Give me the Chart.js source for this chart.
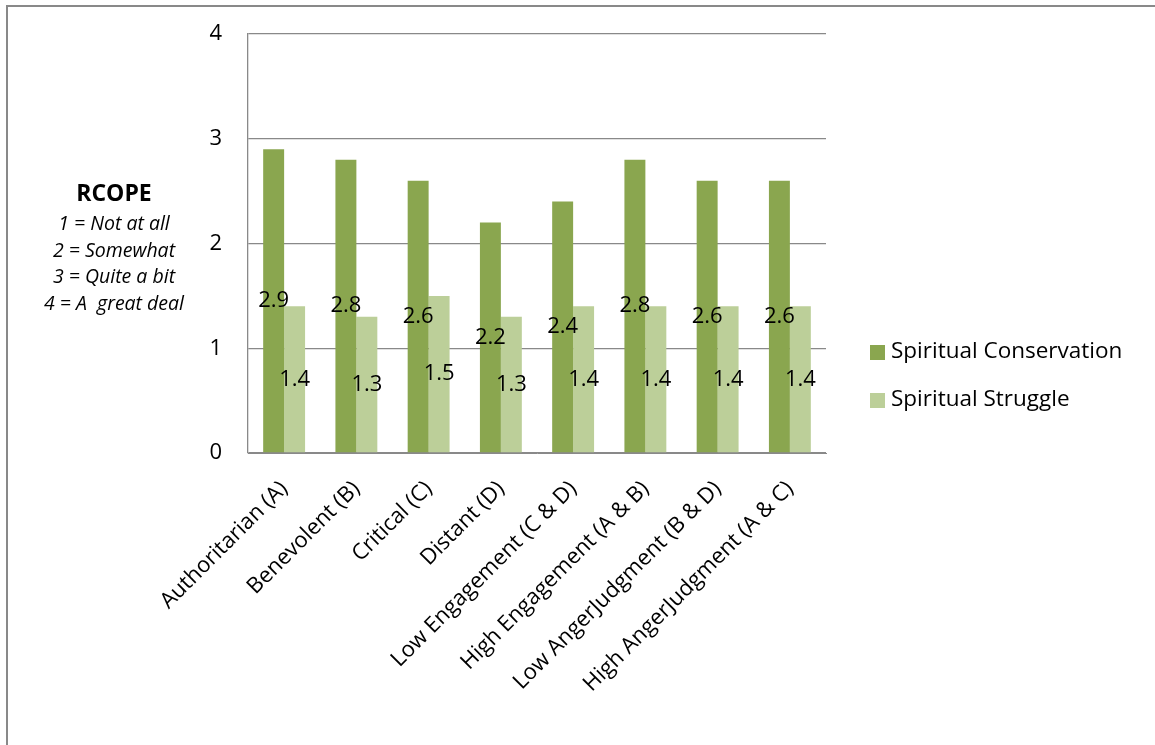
<!DOCTYPE html>
<html lang="en">
<head>
  <meta charset="UTF-8">
  <title>RCOPE by God Image</title>
  <script src="https://cdn.jsdelivr.net/npm/chart.js"></script>
  <style>
    body { margin: 0; background: #fff; font-family: "Open Sans", sans-serif; }
    #wrap { position: relative; width: 1155px; height: 745px; overflow: hidden; }
    #frame { position: absolute; left: 6px; top: 5px; width: 1200px; height: 800px;
             border-left: 2px solid #898989; border-top: 2px solid #898989; }
    #note { position: absolute; left: 14px; top: 177px; width: 200px; text-align: center; color: #000; }
    #note .head { font-weight: bold; font-size: 23px; line-height: 30px; }
    #note .scale { font-style: italic; font-size: 19.5px; line-height: 26.5px; margin-top: 3px; }
    canvas { position: absolute; left: 0; top: 0; }
  </style>
</head>
<body>
<div id="wrap">
  <div id="frame"></div>
  <canvas id="rcopeChart" width="1155" height="745"></canvas>
  <div id="note">
    <div class="head">RCOPE</div>
    <div class="scale">1 = Not at all<br>2 = Somewhat<br>3 = Quite a bit<br>4 = A&nbsp; great deal</div>
  </div>
</div>

<script>
  // categories (god image types) and mean RCOPE scores
  const godImages = [
    'Authoritarian (A)', 'Benevolent (B)', 'Critical (C)', 'Distant (D)',
    'Low Engagement (C & D)', 'High Engagement (A & B)',
    'Low AngerJudgment (B & D)', 'High AngerJudgment (A & C)'
  ];
  const conservation = [2.9, 2.8, 2.6, 2.2, 2.4, 2.8, 2.6, 2.6];
  const struggle = [1.4, 1.3, 1.5, 1.3, 1.4, 1.4, 1.4, 1.4];
  const yTicks = [0, 1, 2, 3, 4];

  const FONT = '"Open Sans"';

  // value labels, centred in each bar
  const barLabels = {
    id: 'barLabels',
    afterDatasetsDraw(chart) {
      const ctx = chart.ctx;
      ctx.save();
      ctx.font = '22px ' + FONT;
      ctx.fillStyle = '#000';
      ctx.textAlign = 'center';
      ctx.textBaseline = 'middle';
      chart.data.datasets.forEach((ds, i) => {
        chart.getDatasetMeta(i).data.forEach((bar, j) => {
          ctx.fillText(ds.data[j].toFixed(1), bar.x, (bar.y + bar.base) / 2);
        });
      });
      ctx.restore();
    }
  };

  // legend to the right of the plot, Excel style
  const sideLegend = {
    id: 'sideLegend',
    afterDraw(chart) {
      const ctx = chart.ctx;
      const area = chart.chartArea;
      const x = area.right + 44;
      ctx.save();
      ctx.font = '22.5px ' + FONT;
      ctx.textBaseline = 'middle';
      ctx.textAlign = 'left';
      chart.data.datasets.forEach((ds, i) => {
        const y = area.bottom - 101 + i * 48;
        ctx.fillStyle = ds.backgroundColor;
        ctx.fillRect(x, y - 7, 15, 15);
        ctx.fillStyle = '#000';
        ctx.fillText(ds.label, x + 21, y);
      });
      ctx.restore();
    }
  };

  new Chart(document.getElementById('rcopeChart'), {
    type: 'bar',
    data: {
      labels: godImages,
      datasets: [
        { label: 'Spiritual Conservation', data: conservation, backgroundColor: '#8aa64f' },
        { label: 'Spiritual Struggle', data: struggle, backgroundColor: '#bccf99' }
      ]
    },
    options: {
      responsive: false,
      animation: false,
      layout: { padding: { top: 34, bottom: 27, right: 329, left: 0 } },
      datasets: { bar: { categoryPercentage: 0.58, barPercentage: 1 } },
      plugins: {
        legend: { display: false },
        tooltip: { enabled: false }
      },
      scales: {
        x: {
          grid: { display: false },
          border: { color: '#898989' },
          ticks: {
            font: { family: FONT, size: 22 },
            color: '#000',
            autoSkip: false,
            minRotation: 45,
            maxRotation: 45,
            padding: 15
          },
          afterFit(s) { s.height = 265; }
        },
        y: {
          min: 0,
          max: 4,
          afterBuildTicks(s) { s.ticks = yTicks.map(v => ({ value: v })); },
          grid: { color: '#898989', lineWidth: 1.3, drawTicks: false },
          border: { color: '#898989', width: 1.3 },
          ticks: {
            font: { family: FONT, size: 22 },
            color: '#000',
            padding: 26
          },
          afterFit(s) {
            s.width = 248;
            s.paddingTop = 0;
            s.paddingBottom = 0;
          }
        }
      }
    },
    plugins: [barLabels, sideLegend]
  });
</script>
</body>
</html>
